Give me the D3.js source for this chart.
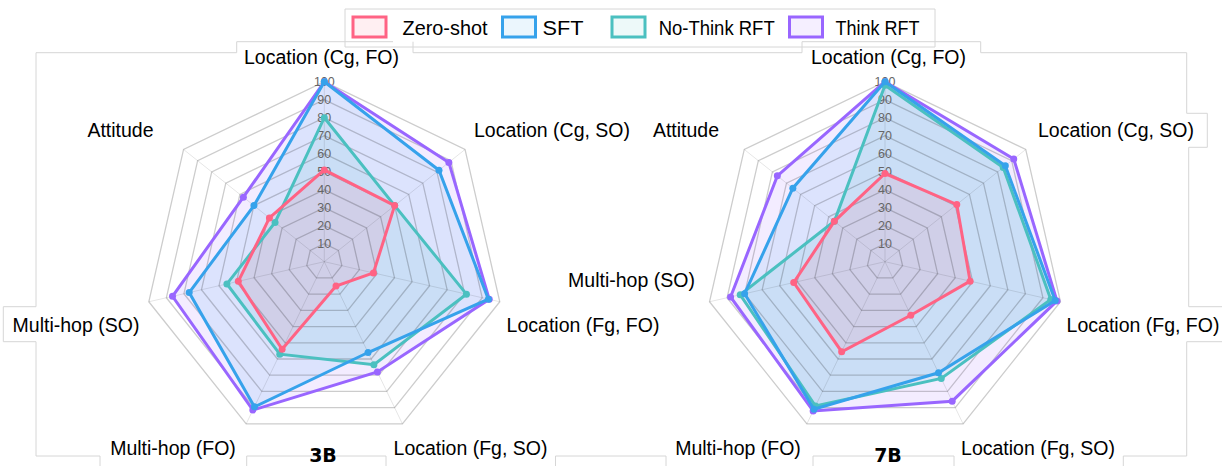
<!DOCTYPE html>
<html>
<head>
<meta charset="utf-8">
<script src="https://cdn.jsdelivr.net/npm/d3@7"></script>
<style>
  html, body { margin: 0; padding: 0; background: #fff; }
  svg { display: block; font-family: "Liberation Sans", Arial, sans-serif; }
</style>
</head>
<body>
<svg id="chart" width="1222" height="466"></svg>
<script>
// ---------- data ----------
const categories = ["Location (Cg, FO)", "Location (Cg, SO)", "Location (Fg, FO)", "Location (Fg, SO)", "Multi-hop (FO)", "Multi-hop (SO)", "Attitude"];
const seriesNames = ["Zero-shot", "SFT", "No-Think RFT", "Think RFT"];
const seriesColors = ["rgb(255,99,132)", "rgb(54,162,235)", "rgb(75,192,192)", "rgb(153,102,255)"];
const tickValues = [10, 20, 30, 40, 50, 60, 70, 80, 90, 100];

const zeroShot3B  = [51, 50, 28, 15, 54, 49, 39];
const sft3B       = [100, 81.5, 93.5, 56, 89.5, 77, 50];
const noThink3B   = [80, 50, 81, 63.5, 57, 55.5, 35];
const think3B     = [100, 88.5, 94, 68, 91.5, 86.5, 57.5];

const zeroShot7B  = [49, 51, 48.5, 33, 55.5, 52, 36];
const sft7B       = [100, 85.5, 97, 68.5, 91, 80, 65.5];
const noThink7B   = [98, 84, 94.5, 72, 89, 82.5, 36];
const think7B     = [100, 91.5, 98, 86, 92, 88, 76.5];

const panelTitles = ["3B", "7B"];

// ---------- layout ----------
const svg = d3.select("#chart");
const R = 180;
const rScale = d3.scaleLinear().domain([0, 100]).range([0, R]);
const aScale = d3.scaleLinear().domain([0, categories.length]).range([0, 2 * Math.PI]);

const panels = [
  { cx: 324.3, cy: 261.7, title: panelTitles[0], data: [zeroShot3B, sft3B, noThink3B, think3B],
    labels: [[321.5, 64], [552, 137], [583, 332], [470.5, 455], [173, 455], [76, 332], [120.5, 137]], titlePos: [323, 462] },
  { cx: 885, cy: 261.7, title: panelTitles[1], data: [zeroShot7B, sft7B, noThink7B, think7B],
    labels: [[888.5, 64], [1116, 137], [1143, 332], [1038, 455], [738, 455], [631.5, 287], [686, 137]], titlePos: [888, 462] }
];

// faint frames (remnants of boxes in the original layout)
const frameColor = "#d6d6d6";
const frames = [
  "M236.7,41.7 L236.7,52.7 L36,52.7 L36,306.7 L3.3,306.7 L3.3,341.7 L36,341.7 L36,456 L100,456 L100,466",
  "M236.7,41.7 L393,41.7",
  "M413,41.7 L413,52.7 L802,52.7 L802,41.7 L980.7,41.7 L980.7,52.7 L1186.7,52.7 L1186.7,113.3 L1207.3,113.3 L1207.3,147.3 L1188.7,147.3 L1188.7,306.7 L1222,306.7",
  "M1222,341.7 L1186.7,341.7 L1186.7,456 L1123.3,456 L1123.3,466",
  "M246.7,466 L246.7,456 L386,456 L386,466",
  "M555.5,466 L555.5,456 L666,456 L666,466",
  "M813,466 L813,456 L954,456 L954,466",
  "M345,47 L345,9 L935,9 L935,47 L345,47"
];
svg.append("g").selectAll("path").data(frames).join("path")
  .attr("d", d => d).attr("fill", "none").attr("stroke", frameColor).attr("stroke-width", 1);

// ---------- panels ----------
panels.forEach(p => {
  const g = svg.append("g").attr("transform", `translate(${p.cx},${p.cy})`);
  const idx = d3.range(categories.length);

  const radialLine = d3.lineRadial()
    .angle((d, i) => aScale(i))
    .radius(d => rScale(d))
    .curve(d3.curveLinearClosed);

  // fills (last dataset first, so first dataset ends on top)
  const order = [3, 2, 1, 0];
  order.forEach(s => {
    g.append("path").attr("d", radialLine(p.data[s]))
      .attr("fill", seriesColors[s]).attr("fill-opacity", 0.12).attr("stroke", "none");
  });

  // grid rings
  tickValues.forEach(t => {
    g.append("path").attr("d", radialLine(idx.map(() => t)))
      .attr("fill", "none").attr("stroke", "rgba(0,0,0,0.2)").attr("stroke-width", 1.3);
  });
  // spokes
  idx.forEach(i => {
    const a = aScale(i);
    g.append("line")
      .attr("x1", 0).attr("y1", 0)
      .attr("x2", rScale(100) * Math.sin(a)).attr("y2", -rScale(100) * Math.cos(a))
      .attr("stroke", "rgba(0,0,0,0.1)").attr("stroke-width", 1);
  });

  // tick labels
  g.append("g").selectAll("text").data(tickValues).join("text")
    .attr("x", 0).attr("y", d => -rScale(d))
    .attr("dy", "0.36em")
    .attr("text-anchor", "middle")
    .attr("font-size", 12.5)
    .attr("fill", "#666")
    .text(d => d);

  // lines and points
  order.forEach(s => {
    g.append("path").attr("d", radialLine(p.data[s]))
      .attr("fill", "none").attr("stroke", seriesColors[s]).attr("stroke-width", 3)
      .attr("stroke-linejoin", "miter");
    g.append("g").selectAll("circle").data(p.data[s]).join("circle")
      .attr("cx", (d, i) => rScale(d) * Math.sin(aScale(i)))
      .attr("cy", (d, i) => -rScale(d) * Math.cos(aScale(i)))
      .attr("r", 3.5)
      .attr("fill", seriesColors[s]);
  });

  // axis labels
  svg.append("g").selectAll("text").data(categories).join("text")
    .attr("x", (d, i) => p.labels[i][0]).attr("y", (d, i) => p.labels[i][1])
    .attr("text-anchor", "middle").attr("font-size", 19.5).attr("fill", "#000")
    .text(d => d);

  // title
  svg.append("text").attr("x", p.titlePos[0]).attr("y", p.titlePos[1])
    .attr("text-anchor", "middle").attr("font-size", 19).attr("font-weight", 900)
    .attr("font-family", "'DejaVu Sans', sans-serif")
    .attr("fill", "#000").text(p.title);
});

// ---------- legend ----------
const legendItems = [
  { box: 353, text: 402.5, w: 85 },
  { box: 502.5, text: 542.5, w: 41 },
  { box: 612, text: 658.7, w: 116 },
  { box: 789.5, text: 835.6, w: 84 }
];
const lg = svg.append("g");
seriesNames.forEach((name, s) => {
  const it = legendItems[s];
  lg.append("rect").attr("x", it.box).attr("y", 17).attr("width", 33).attr("height", 20)
    .attr("fill", seriesColors[s]).attr("fill-opacity", 0.1)
    .attr("stroke", seriesColors[s]).attr("stroke-width", 3);
  lg.append("text").attr("x", it.text).attr("y", 34.5)
    .attr("font-size", 20).attr("fill", "#000")
    .attr("textLength", it.w).attr("lengthAdjust", "spacingAndGlyphs")
    .text(name);
});
</script>
</body>
</html>
